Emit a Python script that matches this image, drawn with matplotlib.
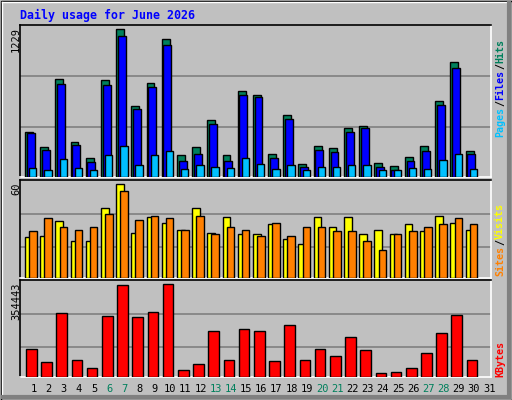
import matplotlib
matplotlib.use("Agg")
import matplotlib.pyplot as plt
from matplotlib.patches import Rectangle

days = list(range(1, 32))
weekend_days = [6, 7, 13, 14, 20, 21, 27, 28]
hits = [372, 247, 813, 289, 155, 804, 1229, 588, 780, 1146, 180, 247, 472, 180, 713,
        680, 189, 513, 105, 255, 239, 405, 422, 114, 89, 164, 255, 630, 954, 214]
files = [363, 222, 771, 264, 122, 763, 1171, 563, 746, 1096, 130, 189, 438, 130, 680,
         663, 155, 480, 80, 222, 205, 372, 405, 80, 55, 130, 214, 596, 904, 189]
pages = [72, 55, 147, 72, 55, 180, 255, 97, 180, 214, 64, 97, 80, 72, 155,
         105, 64, 97, 55, 80, 80, 97, 97, 55, 55, 72, 64, 139, 189, 64]
sites = [26, 27, 36.5, 24, 24, 45, 60, 29, 39, 35, 31, 45, 29, 39, 28,
         28, 34.6, 25, 22, 39, 32.6, 39, 28, 31, 28, 34.6, 30, 40, 35, 31]
visits = [30, 38.5, 33, 31, 32.6, 41, 56, 37, 40, 38.5, 31, 40, 28, 32.6, 31,
          27, 35, 27, 33, 33, 30, 30, 23.5, 18, 28, 30, 33, 34.6, 38.5, 34.6]
kbytes = [106000, 55600, 245800, 63000, 36000, 234000, 350600, 230000, 249700, 354443,
          28500, 47900, 176000, 63000, 183700, 176000, 59500, 199000, 63000, 106000,
          79000, 152600, 102000, 16800, 20700, 36000, 90500, 168000, 238000, 63000]

W, H = 512, 400
BG = "#C0C0C0"
fig = plt.figure(figsize=(W/100, H/100), dpi=100, facecolor=BG)
mono = "DejaVu Sans Mono"

# outer frame / bevel
fa = fig.add_axes([0, 0, 1, 1]); fa.set_xlim(0, W); fa.set_ylim(H, 0); fa.axis("off")
fa.add_patch(Rectangle((0.5, 0.5), W-1, H-1, fill=False, ec="black", lw=1))
fa.plot([2, W-3], [2, 2], color="white", lw=1)
fa.plot([2, 2], [2, H-3], color="white", lw=1)
fa.plot([3, W-3], [H-3.5, H-3.5], color="#808080", lw=3)
fa.plot([W-3.5, W-3.5], [3, H-3], color="#808080", lw=3)

def panel(y0, y1):
    x0, x1 = 20, 491
    ax = fig.add_axes([x0/W, 1-y1/H, (x1-x0)/W, (y1-y0)/H])
    ax.set_facecolor(BG)
    ax.set_xlim(0, 31)
    ax.set_xticks([]); ax.set_yticks([])
    for s in ["top", "left"]:
        ax.spines[s].set_color("black")
    for s in ["bottom", "right"]:
        ax.spines[s].set_color("white")
    for s in ax.spines.values():
        s.set_linewidth(1.2)
    return ax

def bars(ax, vals, off, width, color):
    x = [i + off for i in range(len(vals))]
    ax.bar(x, vals, width=width, align="edge", color=color, edgecolor="black", lw=1, zorder=3)

# top
ax1 = panel(25, 177)
ax1.set_ylim(0, 1265)
for g in (416, 840):
    ax1.axhline(g, color="#808080", lw=1.2, zorder=1)
bars(ax1, hits, 0.33, 0.52, "#00805C")
bars(ax1, files, 0.44, 0.52, "#0000FF")
bars(ax1, pages, 0.6, 0.48, "#00C0FF")

# middle
ax2 = panel(180, 278)
ax2.set_ylim(0, 62.8)
for g in (19.6, 41.1):
    ax2.axhline(g, color="#808080", lw=1.2, zorder=1)
bars(ax2, sites, 0.33, 0.5, "#FFFF00")
bars(ax2, visits, 0.6, 0.5, "#FF8000")

# bottom
ax3 = panel(280, 377)
ax3.set_ylim(0, 370000)
for g in (114000, 242000):
    ax3.axhline(g, color="#808080", lw=1.2, zorder=1)
bars(ax3, kbytes, 0.4, 0.7, "#FF0000")

# title
fig.text(20/W, 1-15/H, "Daily usage for June 2026", color="#0000FF", family=mono,
         weight="bold", fontsize=8.4, va="center", ha="left")

# y max labels
fig.text(16/W, 1-27/H, str(max(hits)), rotation=90, family=mono, fontsize=7.5, ha="center", va="top")
fig.text(16/W, 1-182/H, str(max(sites)), rotation=90, family=mono, fontsize=7.5, ha="center", va="top")
fig.text(16/W, 1-282/H, str(max(kbytes)), rotation=90, family=mono, fontsize=7.5, ha="center", va="top")

def right_label(parts, ybottom):
    y = ybottom
    for txt, col in parts:
        t = fig.text(500/W, 1-y/H, txt, rotation=90, family=mono, weight="bold",
                     fontsize=7.2, color=col, ha="center", va="bottom")
        y -= len(txt) * 6.2
right_label([("Pages", "#00C0FF"), ("/", "#000000"), ("Files", "#0000FF"),
             ("/", "#000000"), ("Hits", "#00805C")], 137)
right_label([("Sites", "#FF8000"), ("/", "#000000"), ("Visits", "#FFFF00")], 276)
right_label([("KBytes", "#FF0000")], 377)

# day labels
for d in days:
    x = 20 + (d - 1 + 0.88) * 471/31
    col = "#00805C" if d in weekend_days else "black"
    fig.text(x/W, 1-389/H, str(d), family=mono, fontsize=7.5, color=col, ha="center", va="center")

fig.savefig("out.png", dpi=100, facecolor=BG)
